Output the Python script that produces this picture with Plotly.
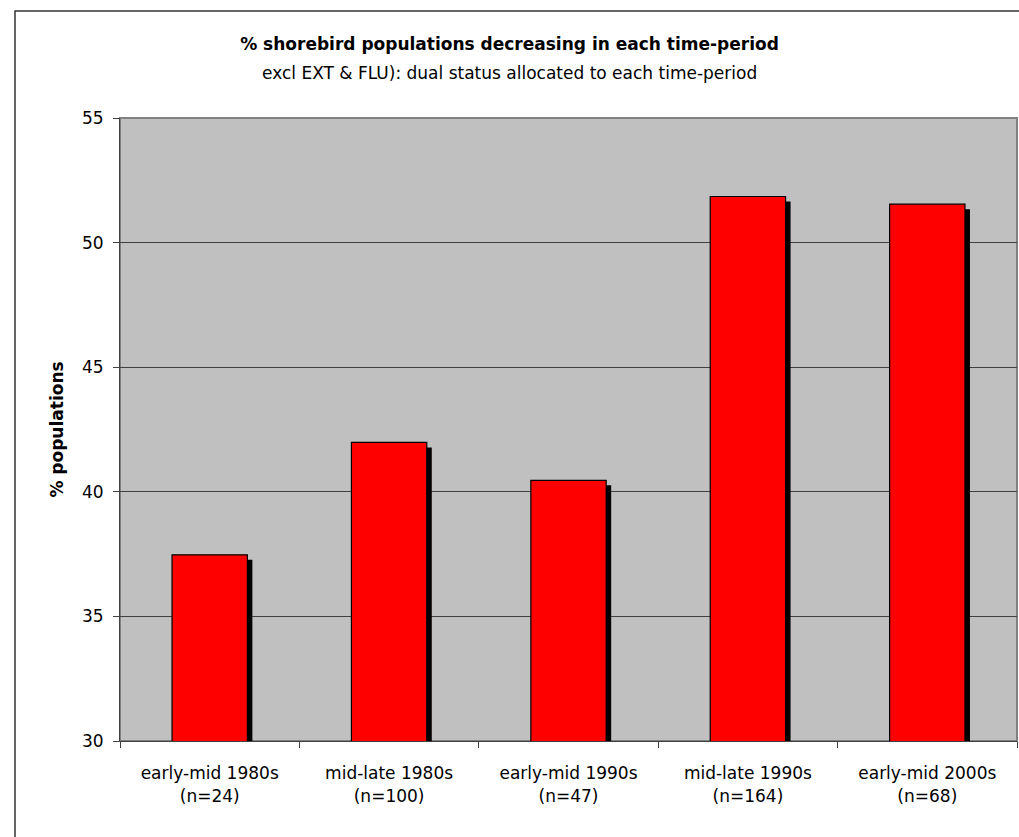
import plotly.graph_objects as go

categories = ["early-mid 1980s<br>(n=24)", "mid-late 1980s<br>(n=100)", "early-mid 1990s<br>(n=47)",
              "mid-late 1990s<br>(n=164)", "early-mid 2000s<br>(n=68)"]
pct_decreasing = [37.47, 41.98, 40.46, 51.85, 51.54]
y_ticks = [30, 35, 40, 45, 50, 55]

W, H = 1019, 837
ML, MR, MT, MB = 120, 2, 118, 96
plot_w = W - ML - MR
plot_h = H - MT - MB
ymin, ymax = 30, 55
cat_px = plot_w / len(categories)
unit_px = plot_h / (ymax - ymin)

bar_w = 0.42
sh_dx = 5 / cat_px
sh_dy = 5 / unit_px

FONT = "DejaVu Sans, Liberation Sans, Arial, sans-serif"
FS = 17

fig = go.Figure()
# shadow
fig.add_trace(go.Bar(
    x=categories, y=[v - sh_dy for v in pct_decreasing],
    width=bar_w, offset=-bar_w / 2 + sh_dx,
    marker=dict(color="black", line=dict(width=0)),
    hoverinfo="skip", showlegend=False))
# bars
fig.add_trace(go.Bar(
    x=categories, y=pct_decreasing,
    width=bar_w, offset=-bar_w / 2,
    marker=dict(color="#FF0000", line=dict(color="black", width=1.2)),
    showlegend=False))

fig.update_layout(
    width=W, height=H,
    margin=dict(l=ML, r=MR, t=MT, b=MB, pad=0),
    barmode="overlay",
    paper_bgcolor="white",
    plot_bgcolor="#C0C0C0",
    font=dict(family=FONT, color="black", size=FS),
    title=dict(
        text="<b>% shorebird populations decreasing in each time-period</b>",
        x=0.5, xref="container", xanchor="center",
        y=1 - 38 / H, yref="container", yanchor="top",
        font=dict(family=FONT, size=FS, color="black")),
    annotations=[dict(
        text="excl EXT &amp; FLU): dual status allocated to each time-period",
        xref="paper", yref="paper", x=(W / 2 - ML) / plot_w, y=(H - MB - 73) / plot_h,
        xanchor="center", yanchor="middle", showarrow=False,
        font=dict(family=FONT, size=FS, color="black"))],
    xaxis=dict(
        showgrid=False, ticks="outside", tickson="boundaries", ticklen=6,
        tickcolor="#404040", showline=True, linecolor="#404040", linewidth=1,
        tickfont=dict(size=FS, family=FONT), ticklabelstandoff=17, fixedrange=True),
    yaxis=dict(
        range=[ymin, ymax], tickvals=y_ticks, showgrid=True, gridcolor="#404040",
        gridwidth=1, ticks="outside", ticklen=6, tickcolor="#404040",
        showline=True, linecolor="#404040", linewidth=1, zeroline=False,
        tickfont=dict(size=FS, family=FONT), ticklabelstandoff=6,
        title=dict(text="<b>% populations</b>", font=dict(size=FS, family=FONT), standoff=14),
        fixedrange=True),
    shapes=[
        dict(type="rect", xref="paper", yref="paper",
             x0=0, x1=1, y0=0, y1=1, line=dict(color="#808080", width=2), layer="below"),
        dict(type="rect", xref="paper", yref="paper",
             x0=(15 - ML) / plot_w, x1=(W + 20 - ML) / plot_w,
             y0=(H - MB - (H + 20)) / plot_h, y1=(H - MB - 11) / plot_h,
             line=dict(color="#333333", width=1.5)),
    ],
)

fig.write_html("out.html", config={"displayModeBar": False},
               post_script="document.body.style.margin='0px';document.body.style.overflow='hidden';")
